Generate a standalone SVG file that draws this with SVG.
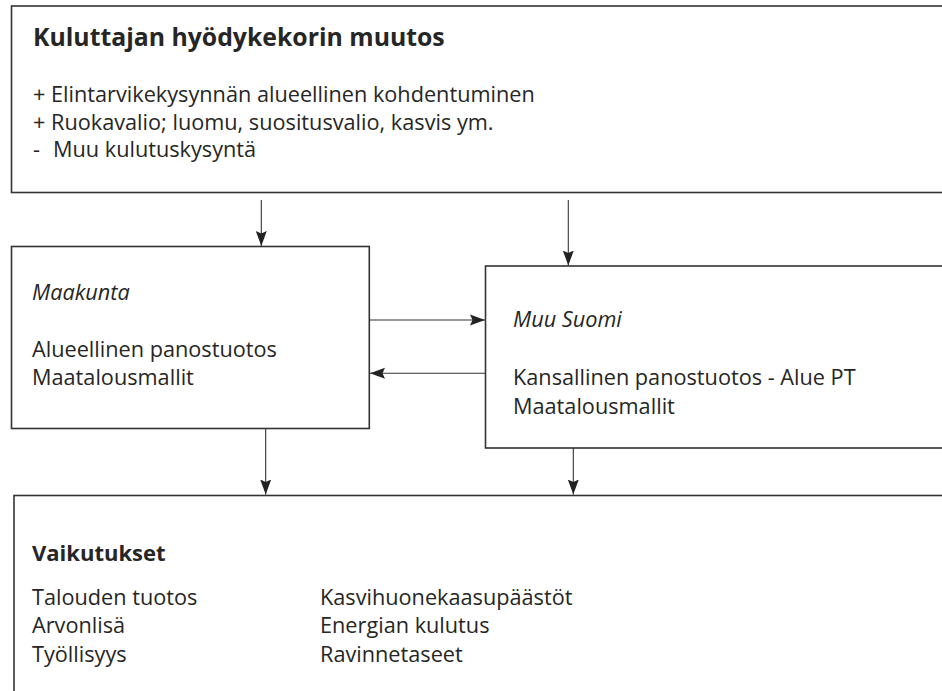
<svg xmlns="http://www.w3.org/2000/svg" width="942" height="691" viewBox="0 0 942 691">
<style>
.box{fill:#fff;stroke:#333;stroke-width:1.6}
.con{stroke:#333;stroke-width:1.1;fill:none}
text{font-family:"Open Sans","Noto Sans",sans-serif;fill:#262626}
.b{font-size:21.7px}
.t{font-size:24.8px;font-weight:bold}
.h{font-size:22px;font-weight:bold}
.i{font-size:21.7px;font-style:italic}
</style>
<defs>
<marker id="ah" markerUnits="userSpaceOnUse" markerWidth="16" markerHeight="12" viewBox="0 0 16 12" refX="15" refY="6" orient="auto">
<path d="M0,0.5 L15,6 L0,11.5 L2.5,6 Z" fill="#222"/>
</marker>
</defs>
<rect width="942" height="691" fill="#fff"/>
<g id="n-kuluttaja">
<rect class="box" x="11.5" y="6" width="960" height="186.5"/>
<text class="t" x="33" y="45.5">Kuluttajan hyödykekorin muutos</text>
<text class="b" x="33" y="101.5">+ Elintarvikekysynnän alueellinen kohdentuminen</text>
<text class="b" x="33" y="129.5">+ Ruokavalio; luomu, suositusvalio, kasvis ym.</text>
<text class="b" x="33" y="157">-<tspan x="53">Muu kulutuskysyntä</tspan></text>
</g>
<g id="n-maakunta">
<rect class="box" x="11.5" y="246.5" width="357.8" height="182"/>
<text class="i" x="32" y="299.5">Maakunta</text>
<text class="b" x="32" y="356.7">Alueellinen panostuotos</text>
<text class="b" x="32" y="385">Maatalousmallit</text>
</g>
<g id="n-muusuomi">
<rect class="box" x="485.5" y="266" width="480" height="182"/>
<text class="i" x="513" y="327.3">Muu Suomi</text>
<text class="b" x="513" y="385">Kansallinen panostuotos - Alue PT</text>
<text class="b" x="513" y="414">Maatalousmallit</text>
</g>
<g id="n-vaikutukset">
<rect class="box" x="14" y="495.5" width="960" height="220"/>
<text class="h" x="32" y="560.7">Vaikutukset</text>
<text class="b" x="32" y="605">Talouden tuotos</text>
<text class="b" x="32" y="633.3">Arvonlisä</text>
<text class="b" x="32" y="661.7">Työllisyys</text>
<text class="b" x="320" y="605">Kasvihuonekaasupäästöt</text>
<text class="b" x="320" y="633.3">Energian kulutus</text>
<text class="b" x="320" y="661.7">Ravinnetaseet</text>
</g>
<g id="connectors">
<line class="con" x1="261.3" y1="200" x2="261.3" y2="246" marker-end="url(#ah)"/>
<line class="con" x1="568.3" y1="200" x2="568.3" y2="265.5" marker-end="url(#ah)"/>
<line class="con" x1="370" y1="320" x2="485" y2="320" marker-end="url(#ah)"/>
<line class="con" x1="485" y1="373.3" x2="370" y2="373.3" marker-end="url(#ah)"/>
<line class="con" x1="265.7" y1="428.5" x2="265.7" y2="494.5" marker-end="url(#ah)"/>
<line class="con" x1="573.3" y1="448" x2="573.3" y2="494.5" marker-end="url(#ah)"/>
</g>
</svg>
